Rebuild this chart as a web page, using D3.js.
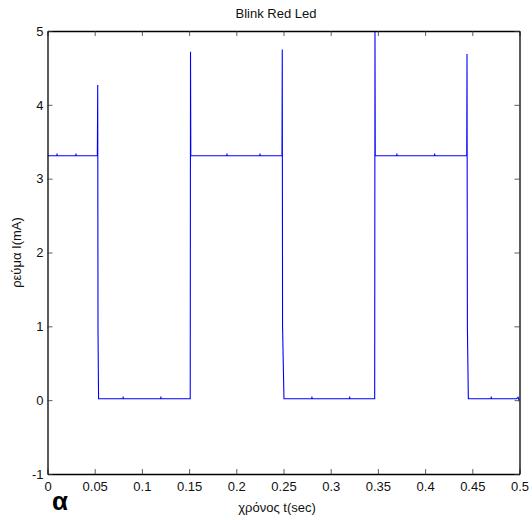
<!DOCTYPE html>
<html><head><meta charset="utf-8">
<script src="https://cdn.jsdelivr.net/npm/d3@7"></script>
<style>body{margin:0;background:#fff}svg{display:block}text{font-family:"Liberation Sans",Arial,sans-serif}</style>
</head><body><svg id="c" width="532" height="520"></svg>
<script>
const title = "Blink Red Led";
const xLabel = "χρόνος t(sec)";
const yLabel = "ρεύμα I(mA)";
const panelLabel = "α";
const xTicks = [0,0.05,0.1,0.15,0.2,0.25,0.3,0.35,0.4,0.45,0.5];
const xTickLabels = ["0","0.05","0.1","0.15","0.2","0.25","0.3","0.35","0.4","0.45","0.5"];
const yTicks = [-1,0,1,2,3,4,5];
const yTickLabels = ["-1","0","1","2","3","4","5"];
const timeSec = [
 0,0.010,0.0101,0.0103,0.030,0.0301,0.0303,0.0528,
 0.0532,0.0535,0.0541,
 0.080,0.0801,0.0803,0.120,0.1201,0.1203,0.1512,
 0.1515,0.1518,
 0.190,0.1901,0.1903,0.225,0.2251,0.2253,0.2484,
 0.2487,0.2490,0.2505,
 0.280,0.2801,0.2803,0.320,0.3201,0.3203,0.3466,
 0.3469,0.3472,
 0.370,0.3701,0.3703,0.410,0.4101,0.4103,0.4441,
 0.4444,0.4448,0.4458,
 0.470,0.4701,0.4703,0.497,0.4985,0.4995,0.5
];
const currentMA = [
 3.31,3.31,3.34,3.31,3.31,3.34,3.31,3.31,
 4.27,0.95,0.02,
 0.02,0.05,0.02,0.02,0.05,0.02,0.02,
 4.72,3.31,
 3.31,3.34,3.31,3.31,3.34,3.31,3.31,
 4.75,1.0,0.02,
 0.02,0.05,0.02,0.02,0.05,0.02,0.02,
 5.0,3.31,
 3.31,3.34,3.31,3.31,3.34,3.31,3.31,
 4.69,1.0,0.02,
 0.02,0.05,0.02,0.02,0.04,0.0,0.02
];

const m = {l:47.5, r:519.5, t:31, b:474};
const svg = d3.select("#c");
const x = d3.scaleLinear().domain([0,0.5]).range([m.l,m.r]);
const y = d3.scaleLinear().domain([-1,5]).range([m.b,m.t]);

svg.append("defs").append("clipPath").attr("id","clip").append("rect")
  .attr("x",m.l).attr("y",m.t).attr("width",m.r-m.l).attr("height",m.b-m.t);

const data = timeSec.map((t,i)=>[t,currentMA[i]]);
svg.append("path").datum(data).attr("clip-path","url(#clip)")
  .attr("fill","none").attr("stroke","#0000ff").attr("stroke-width",1.1)
  .attr("d", d3.line().x(d=>x(d[0])).y(d=>y(d[1])));

const tl = 5;
const fmtX = (d,i)=>xTickLabels[i];
const fmtY = (d,i)=>yTickLabels[i];
const gx = svg.append("g").attr("transform",`translate(0,${m.b})`)
  .call(d3.axisBottom(x).tickValues(xTicks).tickFormat(fmtX).tickSizeInner(-tl).tickSizeOuter(0).tickPadding(8));
const gxt = svg.append("g").attr("transform",`translate(0,${m.t})`)
  .call(d3.axisTop(x).tickValues(xTicks).tickFormat("").tickSizeInner(-tl).tickSizeOuter(0));
const gy = svg.append("g").attr("transform",`translate(${m.l},0)`)
  .call(d3.axisLeft(y).tickValues(yTicks).tickFormat(fmtY).tickSizeInner(-tl).tickSizeOuter(0).tickPadding(4));
const gyr = svg.append("g").attr("transform",`translate(${m.r},0)`)
  .call(d3.axisRight(y).tickValues(yTicks).tickFormat("").tickSizeInner(-tl).tickSizeOuter(0));
[gx,gxt,gy,gyr].forEach(g=>{
  g.select(".domain").attr("stroke","#000").attr("stroke-width",1.3);
  g.selectAll(".tick line").attr("stroke","#333").attr("stroke-width",0.8);
  g.selectAll("text").attr("font-family","Liberation Sans, Arial, sans-serif").attr("font-size",13).attr("fill","#111");
});

svg.append("text").attr("x",276).attr("y",18).attr("text-anchor","middle")
  .attr("font-size",13).attr("fill","#111").text(title);
svg.append("text").attr("x",277).attr("y",512).attr("text-anchor","middle")
  .attr("font-size",13).attr("fill","#111").text(xLabel);
svg.append("text").attr("transform",`translate(21,${(m.t+m.b)/2}) rotate(-90)`).attr("text-anchor","middle")
  .attr("font-size",13).attr("fill","#111").text(yLabel);
svg.append("text").attr("x",52).attr("y",510).attr("font-size",26).attr("font-weight","bold")
  .attr("fill","#000").text(panelLabel);
</script></body></html>
